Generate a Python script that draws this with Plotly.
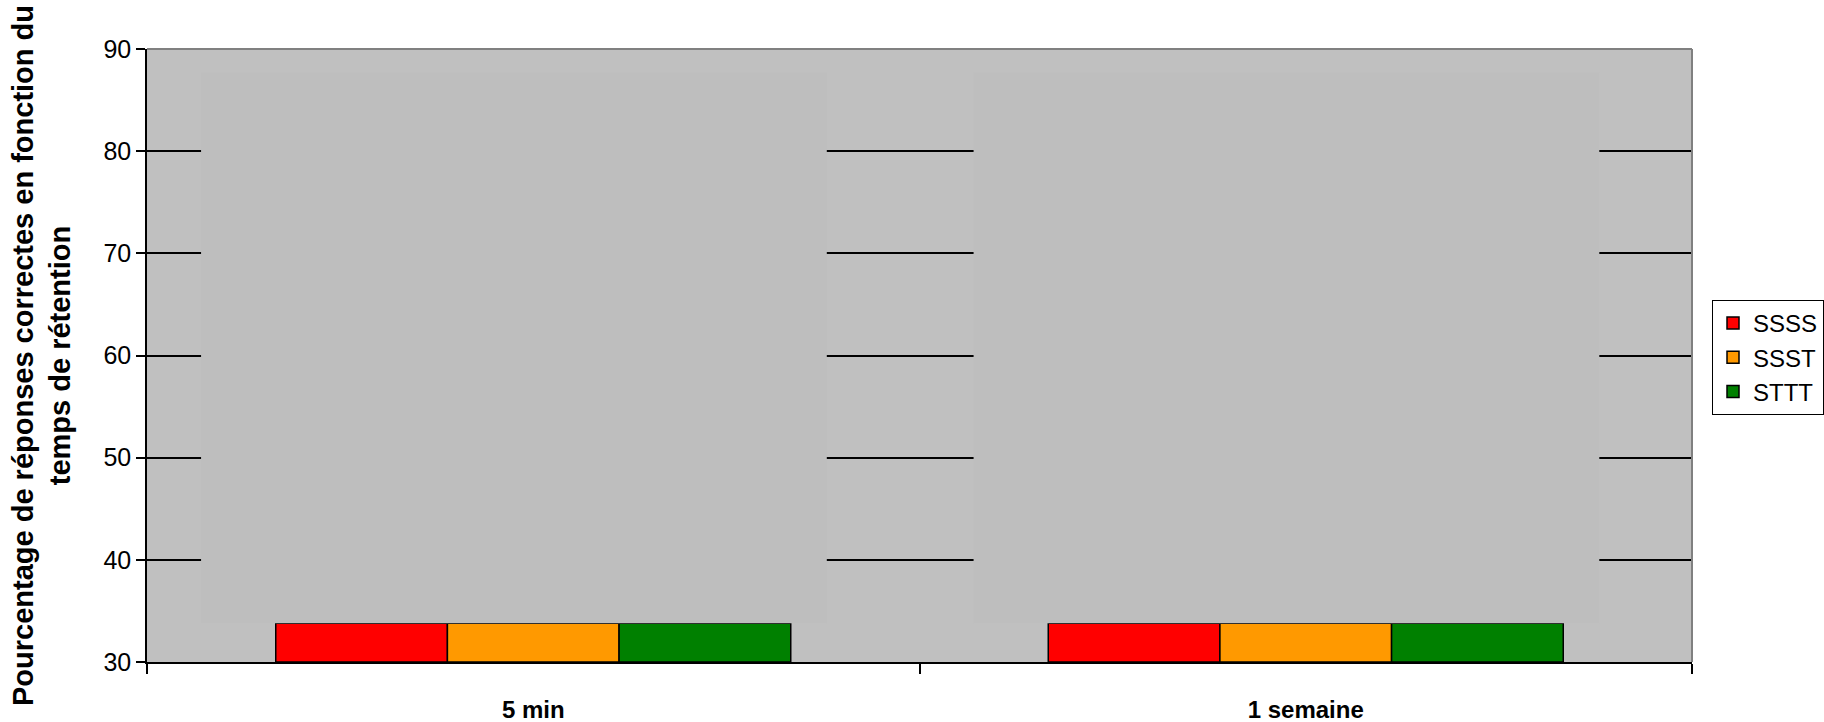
import plotly.graph_objects as go

# Retention intervals and the three study/test schedules
categories = ["5 min", "1 semaine"]
series_names = ["SSSS", "SSST", "STTT"]
series_colors = ["#ff0000", "#ff9900", "#008000"]
values = {
    "SSSS": [33.8, 33.8],
    "SSST": [33.8, 33.8],
    "STTT": [33.8, 33.8],
}
# Grey backdrop blocks sitting on top of each group
backdrop_top = [87.7, 87.7]
backdrop_base = [33.8, 33.8]

y_ticks = [30, 40, 50, 60, 70, 80, 90]

FONT = "Liberation Sans, Arial, sans-serif"

fig = go.Figure()

for i, name in enumerate(series_names):
    fig.add_trace(go.Bar(
        x=categories,
        y=[v - 30 for v in values[name]],
        base=30,
        name=name,
        legendgroup=name,
        marker=dict(color=series_colors[i], line=dict(color="black", width=1.5)),
        hoverinfo="skip",
    ))

fig.add_trace(go.Bar(
    x=categories,
    y=[t - b for t, b in zip(backdrop_top, backdrop_base)],
    base=backdrop_base,
    width=0.81,
    offset=-0.43,
    marker=dict(color="#bebebe", line=dict(width=0)),
    showlegend=False,
    hoverinfo="skip",
    xaxis="x2",
))

fig.update_layout(
    width=1824,
    height=722,
    margin=dict(l=147, r=132, t=49, b=60),
    paper_bgcolor="white",
    plot_bgcolor="#c0c0c0",
    barmode="group",
    bargap=1/3,
    bargroupgap=0,
    font=dict(family=FONT, color="black", size=22),
    showlegend=True,
    legend=dict(
        xref="container", yref="container",
        x=0.9386, xanchor="left", y=0.505, yanchor="middle",
        bordercolor="black", borderwidth=1, bgcolor="white",
        font=dict(size=24, family=FONT),
        tracegroupgap=24,
        traceorder="normal",
    ),
    xaxis=dict(
        type="category",
        categoryorder="array",
        categoryarray=categories,
        tickson="boundaries",
        ticks="outside",
        ticklen=10,
        tickwidth=1.5,
        tickcolor="black",
        showline=True,
        linecolor="black",
        linewidth=1.5,
        showgrid=False,
        automargin=False,
        tickfont=dict(size=24, family=FONT, weight="bold"),
        ticklabelstandoff=25,
    ),
    xaxis2=dict(
        type="category",
        categoryorder="array",
        categoryarray=categories,
        overlaying="x",
        matches="x",
        visible=False,
    ),
    yaxis=dict(
        range=[30, 90],
        tickvals=y_ticks,
        ticks="outside",
        ticklen=9,
        tickwidth=1.5,
        tickcolor="black",
        showline=True,
        linecolor="black",
        linewidth=1.5,
        showgrid=True,
        gridcolor="black",
        gridwidth=1.5,
        zeroline=False,
        automargin=False,
        tickfont=dict(size=25, family=FONT),
        title=dict(
            text="Pourcentage de réponses correctes en fonction du<br>temps de rétention",
            font=dict(size=29, family=FONT, weight="bold"),
            standoff=24,
        ),
    ),
    shapes=[
        dict(type="line", xref="paper", yref="paper", x0=0, x1=1, y0=1, y1=1,
             line=dict(color="#808080", width=2), layer="above"),
        dict(type="line", xref="paper", yref="paper", x0=1, x1=1, y0=0, y1=1,
             line=dict(color="#808080", width=2), layer="above"),
    ],
)

fig.write_html("out.html")
